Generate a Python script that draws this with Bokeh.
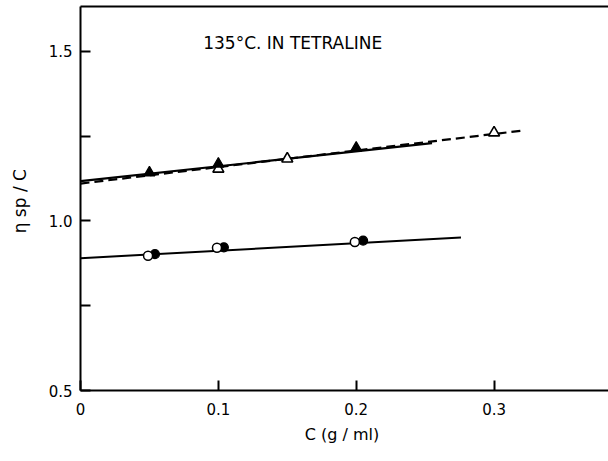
from bokeh.plotting import figure
from bokeh.models import FixedTicker, LinearAxis, Label, Title
from bokeh.embed import file_html
from bokeh.resources import INLINE

# ---- data ----
x_tri_filled = [0.05, 0.10, 0.20]
y_tri_filled = [1.142, 1.168, 1.215]
x_tri_open = [0.10, 0.15, 0.30]
y_tri_open = [1.153, 1.183, 1.260]
x_circ_open = [0.049, 0.099, 0.199]
y_circ_open = [0.897, 0.921, 0.938]
x_circ_filled = [0.054, 0.104, 0.205]
y_circ_filled = [0.902, 0.922, 0.942]

upper_solid_x = [0.0, 0.255]
upper_solid_y = [1.117, 1.229]
upper_dash_x = [0.0, 0.322]
upper_dash_y = [1.110, 1.267]
lower_solid_x = [0.0, 0.276]
lower_solid_y = [0.890, 0.951]

x_ticks = [0, 0.1, 0.2, 0.3]
x_tick_labels = ["0", "0.1", "0.2", "0.3"]
y_ticks = [0.5, 0.75, 1.0, 1.25, 1.5]
y_tick_labels = ["0.5", "", "1.0", "", "1.5"]

title_text = "135°C. IN TETRALINE"
x_label = "C  (g / ml)"
y_label = "η  sp / C"

FONT = "DejaVu Sans"

p = figure(width=608, height=461, x_range=(0, 0.383), y_range=(0.5, 1.632),
           output_backend="svg", toolbar_location=None,
           min_border_left=80, min_border_right=0, min_border_top=6,
           min_border_bottom=71, x_axis_location=None, y_axis_location=None)
p.outline_line_color = None
p.grid.visible = False
p.background_fill_color = "white"
p.border_fill_color = "white"

# lines
p.line(upper_solid_x, upper_solid_y, line_color="black", line_width=2.2)
p.line(upper_dash_x, upper_dash_y, line_color="black", line_width=2.2, line_dash="9 5")
p.line(lower_solid_x, lower_solid_y, line_color="black", line_width=2.0)

# markers
p.scatter(x_tri_open, y_tri_open, marker="triangle", size=11, fill_color="white",
          line_color="black", line_width=1.6)
p.scatter(x_tri_filled, y_tri_filled, marker="triangle", size=11, fill_color="black",
          line_color="black", line_width=1.2)
p.scatter(x_circ_filled, y_circ_filled, marker="circle", size=9, fill_color="black",
          line_color="black", line_width=1.2)
p.scatter(x_circ_open, y_circ_open, marker="circle", size=9, fill_color="white",
          line_color="black", line_width=1.5)

# axes
xaxis = LinearAxis(ticker=FixedTicker(ticks=x_ticks, minor_ticks=[]))
xaxis.major_label_overrides = {t: l for t, l in zip(x_ticks, x_tick_labels)}
yaxis = LinearAxis(ticker=FixedTicker(ticks=y_ticks, minor_ticks=[]))
yaxis.major_label_overrides = {t: l for t, l in zip(y_ticks, y_tick_labels)}
topaxis = LinearAxis(ticker=FixedTicker(ticks=[], minor_ticks=[]))

for ax in (xaxis, yaxis, topaxis):
    ax.axis_line_color = "black"
    ax.axis_line_width = 2
    ax.major_tick_line_color = "black"
    ax.major_tick_line_width = 2
    ax.major_tick_in = 10
    ax.major_tick_out = 0
    ax.minor_tick_line_color = None
    ax.major_label_text_font = FONT
    ax.major_label_text_font_size = "15px"
    ax.major_label_text_color = "black"

xaxis.major_label_standoff = 12
yaxis.major_label_standoff = 8
yaxis.axis_label = y_label
yaxis.axis_label_text_font = FONT
yaxis.axis_label_text_font_size = "17px"
yaxis.axis_label_text_font_style = "normal"
yaxis.axis_label_text_color = "black"
yaxis.axis_label_standoff = 16
topaxis.major_label_text_font_size = "0px"

p.add_layout(xaxis, "below")
p.add_layout(yaxis, "left")
p.add_layout(topaxis, "above")

xt = Title(text=x_label, align="center", offset=-34, text_font=FONT,
           text_font_size="16px", text_font_style="normal", text_color="black",
           standoff=11)
p.add_layout(xt, "below")

p.add_layout(Label(x=0.089, y=1.524, text=title_text, text_font=FONT,
                   text_font_size="17px", text_baseline="middle", text_color="black"))

open("out.html", "w").write(file_html(p, INLINE))
